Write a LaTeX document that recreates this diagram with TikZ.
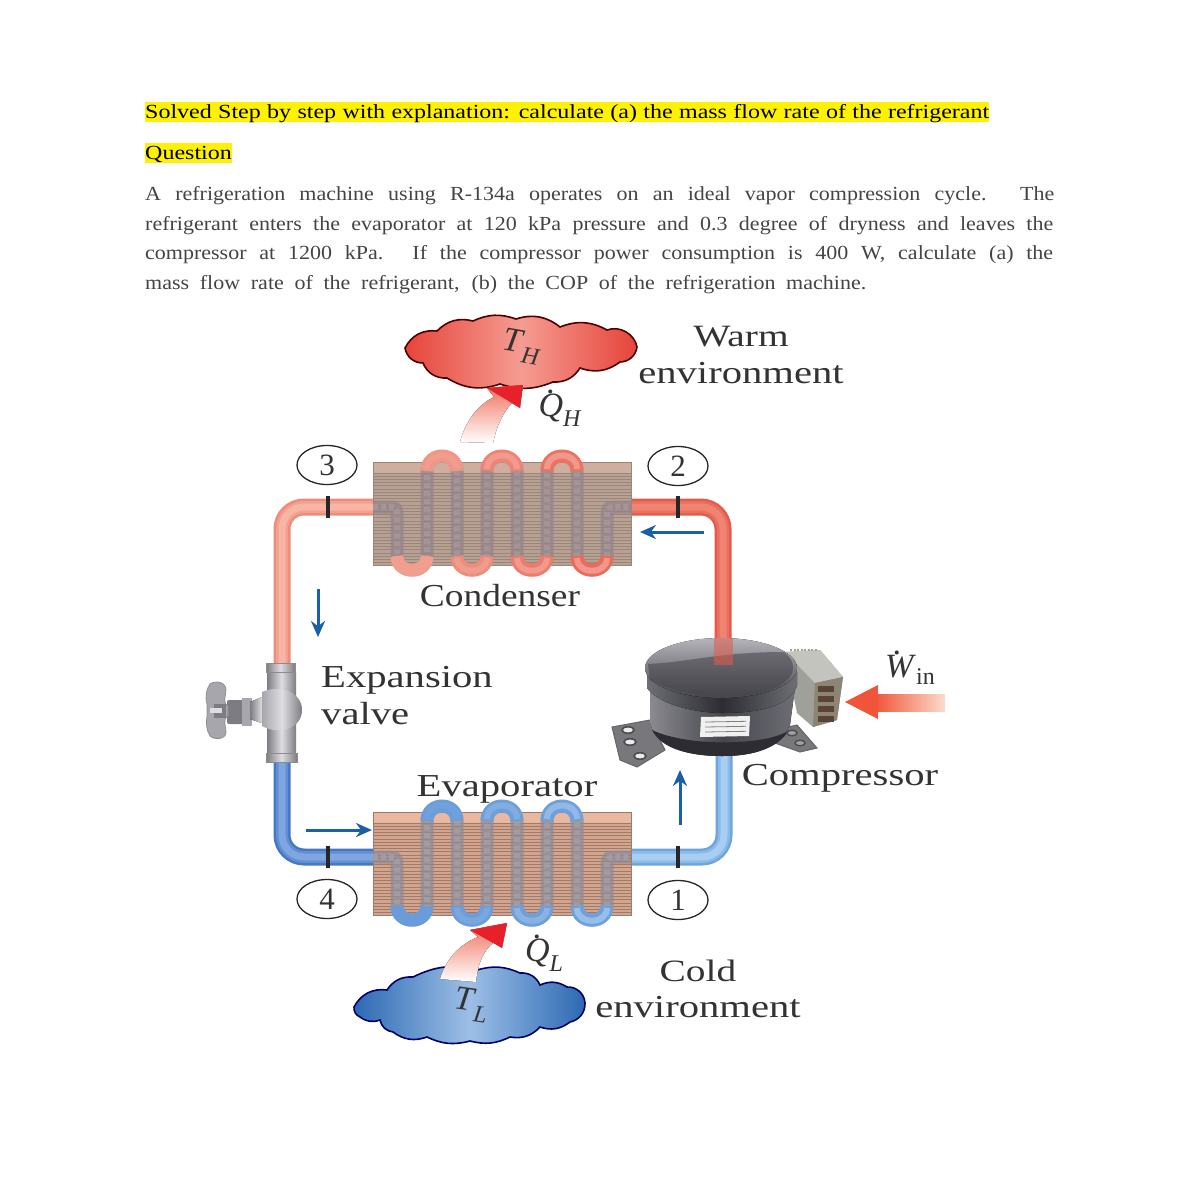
\documentclass[tikz,border=0pt]{standalone}
\usepackage{fontspec}
\setmainfont{Liberation Serif}
\newfontfamily\headfont[FakeStretch=1.2]{Liberation Serif}
\newfontfamily\bodyfont[FakeStretch=1.1]{Liberation Serif}
\newfontfamily\labfont[FakeStretch=1.27]{Liberation Serif}
\newfontfamily\labfontb[FakeStretch=1.17]{Liberation Serif}
\usetikzlibrary{arrows.meta,shapes.geometric}
\newcommand{\fs}[1]{\fontsize{#1}{#1}\selectfont}
\newcommand{\dotover}[1]{\makebox[0pt][l]{\hspace{.22em}\raisebox{.68em}{.}}\textit{#1}}
\newcommand{\subsc}[1]{\raisebox{-.28em}{\fontsize{24}{24}\selectfont\textit{#1}}}
\definecolor{txtg}{HTML}{444444}
\definecolor{lbl}{HTML}{333333}
\definecolor{flow}{HTML}{1B5FA8}
\definecolor{pipeRedL}{HTML}{EE8C7A}
\definecolor{pipeRedLi}{HTML}{F8B5A5}
\definecolor{pipeRedR}{HTML}{E65A4C}
\definecolor{pipeRedRi}{HTML}{EF8472}
\definecolor{pipeBluL}{HTML}{4478C4}
\definecolor{pipeBluLi}{HTML}{7FA6E0}
\definecolor{pipeBluR}{HTML}{6DA6DE}
\definecolor{pipeBluRi}{HTML}{A8CFF2}
\definecolor{bendRL}{HTML}{F09E8E}
\definecolor{bendRR}{HTML}{EC6A5A}
\definecolor{bendBL}{HTML}{6A9CDA}
\definecolor{bendBR}{HTML}{6DA2DC}
\definecolor{condBlk}{HTML}{B8A092}
\definecolor{condBand}{HTML}{CFAE9F}
\definecolor{condFin}{HTML}{9A877C}
\definecolor{condTube}{HTML}{94838A}
\definecolor{condChain}{HTML}{A99A9C}
\definecolor{evapBlk}{HTML}{D6A48C}
\definecolor{evapBand}{HTML}{E8B8A0}
\definecolor{evapFin}{HTML}{9A7C6C}
\definecolor{evapTube}{HTML}{8E8A96}
\definecolor{evapChain}{HTML}{A3A3AE}
\definecolor{cloudR}{HTML}{E6443A}
\definecolor{cloudRm}{HTML}{F59C92}
\definecolor{cloudB}{HTML}{2C69B2}
\definecolor{cloudBm}{HTML}{9DBFE6}
\definecolor{heatA}{HTML}{F0705C}
\definecolor{heatR}{HTML}{E8202A}
\definecolor{heatO}{HTML}{F0553A}
\definecolor{heatP}{HTML}{FCDCCB}
\definecolor{valveD}{HTML}{7C7C82}
\definecolor{valveM}{HTML}{A6A6AC}
\definecolor{valveL}{HTML}{DEDEE2}
\definecolor{boxS}{HTML}{A0A09A}
\definecolor{boxT}{HTML}{C4C4BE}
\definecolor{boxF}{HTML}{8C8474}
\definecolor{boxD}{HTML}{5A4234}
\definecolor{footC}{HTML}{77777C}
\definecolor{compA}{HTML}{8A8A90}
\definecolor{compC}{HTML}{6E6E76}
\definecolor{compD}{HTML}{45454C}
\definecolor{compE}{HTML}{2C2C32}
\definecolor{compT}{HTML}{B4B4BA}
\definecolor{compB}{HTML}{44444A}
\tikzset{
  headtxt/.style={anchor=base west,inner sep=0pt,text=black,font=\headfont\fs{20}},
  bodytxt/.style={anchor=base west,inner sep=0pt,text=txtg,font=\bodyfont\fs{20}},
  lab/.style={inner sep=0pt,text=lbl,font=\labfont\fs{32},align=center},
  mathlab/.style={inner sep=0pt,text=lbl,font=\fs{34}},
  state/.style={draw=black!85,line width=1.3pt,ellipse,minimum width=60pt,minimum height=39pt,inner sep=0pt,font=\fs{31},text=lbl,fill=white},
  flowarrow/.style={draw=flow,line width=3pt,-{Stealth[length=16pt,width=14pt]}},
  tick/.style={draw=black!85,line width=3.2pt},
  metal/.style={draw=black!45,line width=.7pt},
}
\newcommand{\pipe}[3]{%
  \draw[#1,line width=17pt,rounded corners=22pt] #3;
  \draw[#1!50!#2,line width=12pt,rounded corners=22pt] #3;
  \draw[#2,line width=7pt,rounded corners=22pt] #3;}
\newcommand{\exch}[8]{%
  \begin{scope}[shift={(0,#1)}]
    \fill[#2] (373,462) rectangle (631,565);
    \fill[#3] (373,462) rectangle (631,473);
    \foreach \yy in {473,476.2,...,565}{\draw[#4,line width=.7pt] (373,\yy) -- (631,\yy);}
    \draw[#4,line width=.6pt] (373,462) rectangle (631,565);
    \begin{scope}
      \clip (373,462) rectangle (631,565);
      \def\serp{(373,507) -- (385,507) .. controls (397,507) .. (397,519) -- (397,555)
        .. controls (397,575) and (427,575) .. (427,555) -- (427,471)
        .. controls (427,451) and (457,451) .. (457,471) -- (457,555)
        .. controls (457,575) and (487,575) .. (487,555) -- (487,471)
        .. controls (487,451) and (517,451) .. (517,471) -- (517,555)
        .. controls (517,575) and (547,575) .. (547,555) -- (547,471)
        .. controls (547,451) and (577,451) .. (577,471) -- (577,555)
        .. controls (577,575) and (607,575) .. (607,555) -- (607,519)
        .. controls (607,507) .. (619,507) -- (631,507)}
      \draw[#7,line width=13pt,opacity=.75] \serp;
      \draw[#8,line width=6pt,dash pattern=on 5pt off 3pt,opacity=.7] \serp;
    \end{scope}
    \foreach \bx/\mixv in {412/0,472/33,532/66,592/100}{
      \draw[#5!\mixv!#6,line width=13pt] (\bx-15,556) .. controls (\bx-15,575) and (\bx+15,575) .. (\bx+15,556);
      \draw[white!30!#5!\mixv!#6,line width=6pt] (\bx-15,558) .. controls (\bx-15,575) and (\bx+15,575) .. (\bx+15,558);
    }
    \foreach \bx/\mixv in {442/15,502/50,562/85}{
      \draw[#5!\mixv!#6,line width=13pt] (\bx-15,471) .. controls (\bx-15,451) and (\bx+15,451) .. (\bx+15,471);
      \draw[white!30!#5!\mixv!#6,line width=6pt] (\bx-15,469) .. controls (\bx-15,451) and (\bx+15,451) .. (\bx+15,469);
    }
  \end{scope}}
\begin{document}
\begin{tikzpicture}[x=1pt,y=-1pt]
\useasboundingbox (0,0) rectangle (1200,1200);
\fill[white] (0,0) rectangle (1200,1200);
% header
\fill[yellow] (145,102) rectangle (989,122);
\fill[yellow] (145,143) rectangle (232,163);
\node[headtxt] (h1) at (145,118) {\makebox[844pt][s]{Solved Step by step with explanation: calculate (a) the mass flow rate of the refrigerant}};
\node[headtxt] (h2) at (145,159) {\makebox[87pt][s]{Question}};
\node[bodytxt] (b1) at (145,200) {\makebox[909pt][s]{A refrigeration machine using R-134a operates on an ideal vapor compression cycle. The}};
\node[bodytxt] (b2) at (145,230) {\makebox[908pt][s]{refrigerant enters the evaporator at 120 kPa pressure and 0.3 degree of dryness and leaves the}};
\node[bodytxt] (b3) at (145,259) {\makebox[908pt][s]{compressor at 1200 kPa. If the compressor power consumption is 400 W, calculate (a) the}};
\node[bodytxt] (b4) at (145,289) {\makebox[721pt][s]{mass flow rate of the refrigerant, (b) the COP of the refrigeration machine.}};
% pipes
\pipe{pipeRedL}{pipeRedLi}{(373,507) -- (282,507) -- (282,664)}
\pipe{pipeRedR}{pipeRedRi}{(631,507) -- (723,507) -- (723,640)}
\pipe{pipeBluL}{pipeBluLi}{(373,857) -- (282,857) -- (282,760)}
\pipe{pipeBluR}{pipeBluRi}{(631,857) -- (724,857) -- (724,750)}
% exchangers
\exch{0}{condBlk}{condBand}{condFin}{bendRR}{bendRL}{condTube}{condChain}
\exch{350}{evapBlk}{evapBand}{evapFin}{bendBR}{bendBL}{evapTube}{evapChain}
% ticks
\draw[tick] (328,496) -- (328,518);
\draw[tick] (678,496) -- (678,518);
\draw[tick] (328,846) -- (328,868);
\draw[tick] (678,846) -- (678,868);
% state circles
\node[state] (s3) at (327,465) {3};
\node[state] (s2) at (678,466) {2};
\node[state] (s4) at (327,899) {4};
\node[state] (s1) at (678,900) {1};
% flow arrows
\draw[flowarrow] (704,532) -- (640,532);
\draw[flowarrow] (318,589) -- (318,637);
\draw[flowarrow] (306,830) -- (372,830);
\draw[flowarrow] (680,825) -- (680,770);
% warm cloud
\draw[draw=red!30!black,line width=1.6pt,left color=cloudR,right color=cloudR,middle color=cloudRm]
  (405,348) to[bend left=35] (437,331) to[bend left=30] (473,321) to[bend left=22] (516,319) to[bend left=28] (560,327)
  to[bend left=25] (607,330) to[bend left=50] (637,347) to[bend left=40] (620,362) to[bend left=28] (580,368)
  to[bend left=30] (553,382) to[bend left=20] (500,384) to[bend left=25] (447,378) to[bend left=35] (423,363) to[bend left=40] (405,348) -- cycle;
% heat arrow up
\fill[top color=heatA,bottom color=white]
  (460,442) .. controls (466,420) and (478,405) .. (494,397) -- (487,388) -- (523,385) -- (520,408) -- (512,403)
  .. controls (503,412) and (496,428) .. (493,443) -- cycle;
\fill[heatR] (487,388) -- (523,385) -- (520,408) -- cycle;
% cold cloud
\draw[draw=blue!40!black,line width=1.6pt,left color=cloudB,right color=cloudB,middle color=cloudBm]
  (354,1007) to[bend left=35] (387,990) to[bend left=30] (413,977) to[bend left=20] (477,970) to[bend left=20] (520,973)
  to[bend left=35] (540,985) to[bend left=28] (567,987) to[bend left=45] (585,1003) to[bend left=40] (570,1022)
  to[bend left=28] (540,1027) to[bend left=28] (510,1037) to[bend left=20] (470,1041) to[bend left=20] (427,1037)
  to[bend left=28] (393,1032) to[bend left=35] (380,1020) to[bend left=28] (360,1017) to[bend left=35] (354,1007) -- cycle;
% heat arrow into evaporator
\fill[top color=heatA,bottom color=white]
  (440,979) .. controls (446,960) and (458,945) .. (478,937) -- (470,930) -- (507,923) -- (502,948) -- (494,942)
  .. controls (484,950) and (478,962) .. (476,982) -- cycle;
\fill[heatR] (470,930) -- (507,923) -- (502,948) -- cycle;
% expansion valve
\fill[valveD,rounded corners=2pt] (227,700) rectangle (252,724);
\fill[valveM] (242,698) rectangle (252,726);
\fill[left color=valveD,right color=valveL] (250,702) -- (262,697) -- (262,723) -- (250,719) -- cycle;
\draw[metal,fill=valveM] (207,704) .. controls (205,696) and (206,690) .. (210,684) .. controls (216,680) and (226,682) .. (226,690)
  .. controls (226,696) and (222,702) .. (228,706) -- (228,716) .. controls (222,720) and (226,726) .. (226,732)
  .. controls (226,740) and (214,740) .. (210,736) .. controls (206,730) and (206,722) .. (207,716) -- cycle;
\fill[valveD] (214,704) rectangle (226,718);
\fill[valveL] (210,708) rectangle (222,713);
\fill[left color=valveD,right color=valveD,middle color=valveL] (267,672) rectangle (296,755);
\shade[left color=valveM,right color=valveD,middle color=valveL] (262,692) .. controls (280,684) and (302,692) .. (302,710) .. controls (302,728) and (280,736) .. (262,726) -- cycle;
\draw[metal,left color=valveD,right color=valveD,middle color=valveL] (266,663) rectangle (295,672);
\draw[metal,left color=valveD,right color=valveD,middle color=valveL] (266,753) rectangle (297,762);
% compressor
\fill[boxS] (785,652) -- (820,650) -- (843,677) -- (837,720) -- (813,727) -- (797,713) -- cycle;
\fill[boxT] (785,652) -- (820,650) -- (843,677) -- (815,683) -- cycle;
\fill[boxF] (815,683) -- (843,677) -- (837,720) -- (813,727) -- cycle;
\foreach \ty in {686,696,706,716}{\fill[boxD] (818,\ty) rectangle (834,\ty+6);}
\draw[boxS,line width=2pt,dash pattern=on 2pt off 1.5pt] (790,650) -- (818,650);
\draw[black!60,line width=1pt,fill=footC] (612,727) -- (650,720) -- (665,750) -- (637,767) -- (620,760) -- cycle;
\foreach \hx/\hy in {628/730,630/742,640/756}{\draw[black!70,fill=white!85!gray,line width=1.6pt] (\hx,\hy) ellipse (6pt and 3.2pt);}
\draw[black!60,line width=1pt,fill=footC] (775,730) -- (797,725) -- (817,748) -- (800,752) -- (775,743) -- cycle;
\fill[left color=compA,right color=compC,middle color=compD] (650,680) -- (650,722) .. controls (655,748) and (690,756) .. (722,756)
  .. controls (755,756) and (778,748) .. (790,725) -- (796,680) -- cycle;
\fill[compE] (652,730) .. controls (662,750) and (692,756) .. (722,756) .. controls (755,756) and (778,748) .. (789,730)
  .. controls (770,745) and (690,748) .. (652,730) -- cycle;
\foreach \hx/\hy in {792/733,800/743}{\draw[black!70,fill=footC!70,line width=1.4pt] (\hx,\hy) ellipse (5pt and 2.8pt);}
\fill[left color=compC,right color=compC,middle color=compE] (647,672) -- (647,688) .. controls (660,706) and (700,713) .. (722,713)
  .. controls (770,713) and (790,702) .. (797,686) -- (797,672) -- cycle;
\fill[top color=compT,bottom color=compB] (721,668) ellipse (76pt and 30pt);
\fill[compB,opacity=.55] (648,664) .. controls (690,662) and (720,652) .. (784,652) .. controls (800,665) and (795,680) .. (770,690) .. controls (730,702) and (680,696) .. (650,680) -- cycle;
\fill[white!88!gray] (701,717) -- (750,716) -- (749,736) -- (700,737) -- cycle;
\foreach \ly in {722,727,732}{\draw[gray,line width=.8pt] (705,\ly) -- (746,\ly-.7);}
% red pipe seen through the lid
\fill[pipeRedR,opacity=.55] (714,638) rectangle (733,665);
% work arrow
\fill[left color=heatO,right color=heatP] (875,694) rectangle (945,711);
\fill[heatO] (845,702) -- (878,685) -- (878,719) -- cycle;
% labels
\node[lab,font=\labfont\fs{31}] (warm) at (741,337) {Warm};
\node[lab] (warm2) at (741,373) {environment};
\node[lab,font=\labfontb\fs{32}] (cond) at (500,596) {Condenser};
\node[lab,anchor=west] (exp1) at (321,680) {Expansion};
\node[lab,anchor=west] (exp2) at (321,714) {valve};
\node[lab] (evap) at (507,789) {Evaporator};
\node[lab] (comp) at (840,778) {Compressor};
\node[lab,font=\labfont\fs{31}] (cold) at (698,971) {Cold};
\node[lab] (cold2) at (698,1007) {environment};
\node[mathlab,rotate=-10] (th) at (522,347) {\textit{T}\subsc{H}};
\node[mathlab,rotate=-8] (tl) at (471,1005) {\textit{T}\subsc{L}};
\node[mathlab] (qh) at (560,408) {\dotover{Q}\subsc{H}};
\node[mathlab] (ql) at (544,953) {\dotover{Q}\subsc{L}};
\node[mathlab] (win) at (910,668) {\dotover{W}\raisebox{-.2em}{\fontsize{24}{24}\selectfont in}};
\end{tikzpicture}
\end{document}
